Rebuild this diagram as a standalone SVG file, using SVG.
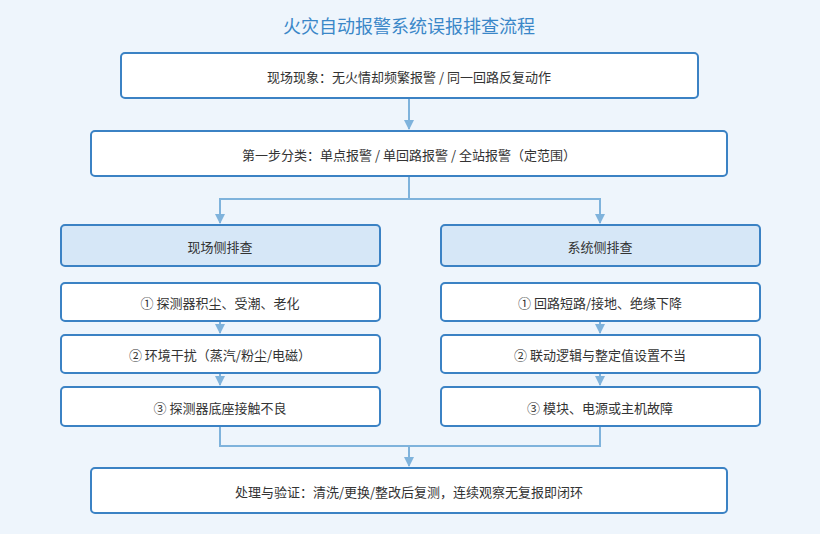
<svg xmlns="http://www.w3.org/2000/svg" width="820" height="534" viewBox="0 0 820 534">
<style>
.b{fill:#fff;stroke:#3b82c4;stroke-width:2}
.h{fill:#d6e7f7;stroke:#3b82c4;stroke-width:2}
.t{font-family:"Noto Sans CJK SC",sans-serif;font-size:13px;fill:#333;text-anchor:middle;dominant-baseline:central}
.c{fill:none;stroke:#7fb3dc;stroke-width:2}
</style>
<defs><marker id="a" viewBox="0 0 10 10" refX="9" refY="5" markerWidth="5" markerHeight="5" orient="auto"><path d="M0,0L10,5L0,10z" fill="#7fb3dc"/></marker></defs>
<rect width="820" height="534" fill="#eef5fc"/>
<text x="409" y="25" class="t" style="font-size:18px;fill:#3a87c8">火灾自动报警系统误报排查流程</text>
<g id="connectors">
<path class="c" d="M409,98V129" marker-end="url(#a)"/>
<path class="c" d="M409,176V199H220V223" marker-end="url(#a)"/>
<path class="c" d="M409,199H600V223" marker-end="url(#a)"/>
<path class="c" d="M220,321V333" marker-end="url(#a)"/>
<path class="c" d="M220,373V385" marker-end="url(#a)"/>
<path class="c" d="M600,321V333" marker-end="url(#a)"/>
<path class="c" d="M600,373V385" marker-end="url(#a)"/>
<path class="c" d="M220,426V446H600V426"/>
<path class="c" d="M409,446V466" marker-end="url(#a)"/>
</g>
<g id="n1"><rect class="b" x="121" y="53" width="577" height="45" rx="4"/><text class="t" x="409" y="76">现场现象：无火情却频繁报警 / 同一回路反复动作</text></g>
<g id="n2"><rect class="b" x="91" y="131" width="636" height="45" rx="4"/><text class="t" x="409" y="154">第一步分类：单点报警 / 单回路报警 / 全站报警（定范围）</text></g>
<g id="hl"><rect class="h" x="61" y="225" width="319" height="41" rx="4"/><text class="t" x="220" y="246">现场侧排查</text></g>
<g id="hr"><rect class="h" x="441" y="225" width="319" height="41" rx="4"/><text class="t" x="600" y="246">系统侧排查</text></g>
<g id="l1"><rect class="b" x="61" y="283" width="319" height="38" rx="4"/><text class="t" x="220" y="302">① 探测器积尘、受潮、老化</text></g>
<g id="l2"><rect class="b" x="61" y="335" width="319" height="38" rx="4"/><text class="t" x="220" y="354">② 环境干扰（蒸汽/粉尘/电磁）</text></g>
<g id="l3"><rect class="b" x="61" y="387" width="319" height="39" rx="4"/><text class="t" x="220" y="407">③ 探测器底座接触不良</text></g>
<g id="r1"><rect class="b" x="441" y="283" width="319" height="38" rx="4"/><text class="t" x="600" y="302">① 回路短路/接地、绝缘下降</text></g>
<g id="r2"><rect class="b" x="441" y="335" width="319" height="38" rx="4"/><text class="t" x="600" y="354">② 联动逻辑与整定值设置不当</text></g>
<g id="r3"><rect class="b" x="441" y="387" width="319" height="39" rx="4"/><text class="t" x="600" y="407">③ 模块、电源或主机故障</text></g>
<g id="n3"><rect class="b" x="91" y="468" width="636" height="45" rx="4"/><text class="t" x="409" y="491">处理与验证：清洗/更换/整改后复测，连续观察无复报即闭环</text></g>
</svg>
